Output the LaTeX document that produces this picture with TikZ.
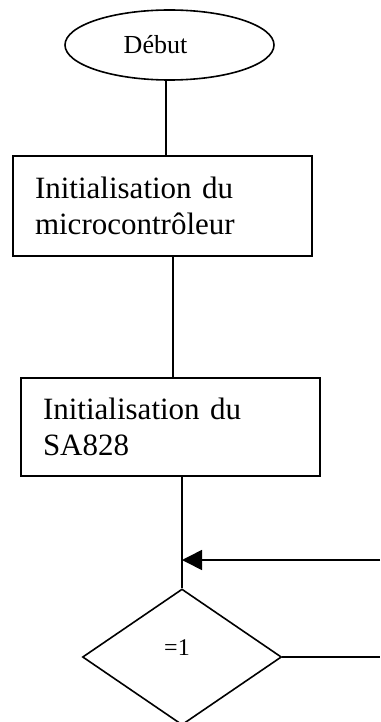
\documentclass[tikz,border=0pt]{standalone}
\usepackage{fontspec}
\setmainfont{Liberation Serif}
\usetikzlibrary{shapes.geometric,arrows.meta}
\begin{document}
\begin{tikzpicture}[x=1pt,y=-1pt,
  startnode/.style={draw,line width=1.6pt,ellipse,minimum width=209pt,minimum height=70pt,inner sep=0pt,
    font=\fontsize{26}{30}\selectfont},
  procbox/.style={draw,line width=1.6pt,rectangle,minimum width=299pt,minimum height=100pt,inner xsep=22pt,
    text width=255pt,align=left,font=\fontsize{31}{36}\selectfont},
  testnode/.style={draw,line width=1.6pt,diamond,minimum width=199pt,minimum height=136pt,inner sep=0pt},
  conn/.style={line width=1.6pt},
  arr/.style={line width=1.6pt,-{Triangle[length=20pt,width=20pt]}}]
\useasboundingbox (0,0) rectangle (380,722);
\clip (0,0) rectangle (380,722);
\node[startnode] (deb) at (169.5,45) {Début\hspace*{28pt}};
\node[procbox] (box1) at (162.5,206) {Initialisation du\\microcontrôleur};
\node[procbox,minimum height=98pt] (box2) at (170.5,427) {Initialisation du\\SA828};
\node[testnode] (dia) at (182,657) {};
\node[font=\fontsize{24}{28}\selectfont] (eq) at (177,648) {=1};
\coordinate (c1) at (166,0);
\coordinate (c2) at (173,0);
\coordinate (inR) at (380,560);
\coordinate (outR) at (380,657);
\draw[conn] (deb.south -| c1) -- (box1.north -| c1);
\draw[conn] (box1.south -| c2) -- (box2.north -| c2);
\draw[conn] (box2.south -| dia.north) -- (dia.north);
\draw[arr] (inR) -- (dia.north |- inR);
\draw[conn] (dia.east) -- (outR);
\end{tikzpicture}
\end{document}
